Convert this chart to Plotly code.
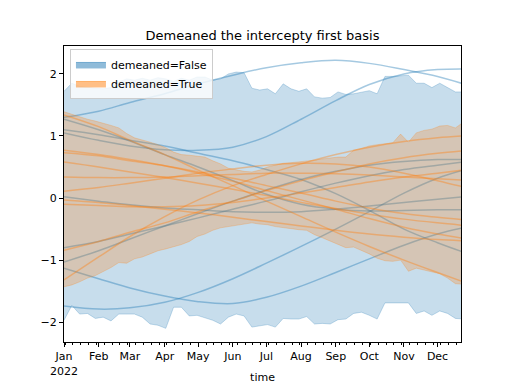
import pandas as pd
import plotly.graph_objects as go

# ---------------- data ----------------
band_dates = pd.date_range("2022-01-01", periods=52, freq="7D")

blue_upper = [1.72, 1.85, 1.80, 1.78, 1.77, 1.76, 1.78, 1.87, 1.92, 1.90, 1.93, 1.90, 1.94,
              1.92, 1.88, 1.93, 1.90, 1.95, 1.95, 1.90, 1.92, 2.00, 2.03, 2.02, 1.77, 1.74,
              1.76, 1.68, 1.84, 1.76, 1.72, 1.76, 1.63, 1.61, 1.62, 1.71, 1.67, 1.68, 1.71,
              1.73, 1.68, 1.96, 1.96, 1.97, 1.98, 1.85, 1.85, 1.78, 1.85, 1.78, 1.71, 1.71]
blue_lower = [-1.97, -1.73, -1.87, -1.86, -1.94, -1.92, -1.98, -1.87, -1.87, -1.87, -1.92,
              -2.03, -2.05, -2.10, -1.76, -1.76, -1.90, -1.89, -1.93, -1.97, -2.03, -1.92,
              -1.87, -1.90, -2.08, -2.06, -2.04, -2.08, -1.94, -1.95, -1.95, -1.91, -2.03,
              -2.02, -2.03, -1.96, -1.95, -1.86, -1.84, -1.89, -1.95, -1.69, -1.69, -1.69,
              -1.69, -1.86, -1.82, -1.89, -1.82, -1.86, -1.94, -1.95]
orange_upper = [1.39, 1.35, 1.30, 1.27, 1.24, 1.21, 1.17, 1.13, 1.04, 0.97, 0.94, 0.90, 0.86,
                0.81, 0.74, 0.70, 0.69, 0.67, 0.66, 0.60, 0.55, 0.48, 0.45, 0.43, 0.42, 0.45,
                0.50, 0.53, 0.56, 0.57, 0.58, 0.60, 0.61, 0.63, 0.65, 0.66, 0.66, 0.77, 0.80,
                0.84, 0.86, 0.88, 0.89, 1.03, 0.90, 1.05, 1.09, 1.11, 1.16, 1.17, 1.13, 1.22]
orange_lower = [-1.43, -1.40, -1.35, -1.29, -1.25, -1.19, -1.12, -1.04, -1.05, -0.98, -0.95,
                -0.90, -0.85, -0.82, -0.79, -0.75, -0.70, -0.62, -0.58, -0.52, -0.48, -0.46,
                -0.44, -0.42, -0.40, -0.42, -0.43, -0.46, -0.48, -0.49, -0.51, -0.52, -0.59,
                -0.64, -0.69, -0.74, -0.80, -0.79, -0.84, -0.90, -0.97, -1.01, -1.02, -1.00,
                -1.18, -1.13, -1.16, -1.19, -1.22, -1.29, -1.38, -1.39]

line_dates = pd.to_datetime(["2022-01-01", "2022-02-01", "2022-03-01", "2022-04-01",
                             "2022-05-01", "2022-06-01", "2022-07-01", "2022-08-01",
                             "2022-09-01", "2022-10-01", "2022-11-01", "2022-12-01",
                             "2022-12-24"])

blue_lines = [
    [1.30, 1.40, 1.54, 1.68, 1.84, 1.98, 2.10, 2.18, 2.22, 2.17, 2.07, 1.96, 1.84],
    [1.05, 0.93, 0.84, 0.78, 0.77, 0.82, 0.99, 1.27, 1.57, 1.83, 2.00, 2.07, 2.08],
    [1.10, 1.02, 0.93, 0.84, 0.72, 0.60, 0.46, 0.30, 0.07, -0.20, -0.50, -0.72, -0.87],
    [1.27, 1.10, 0.92, 0.70, 0.50, 0.28, 0.06, -0.10, -0.18, -0.21, -0.20, -0.19, -0.19],
    [0.02, -0.05, -0.11, -0.16, -0.19, -0.22, -0.23, -0.22, -0.18, -0.13, -0.07, -0.02, 0.02],
    [-0.80, -0.70, -0.58, -0.45, -0.32, -0.18, -0.05, 0.10, 0.24, 0.36, 0.46, 0.53, 0.58],
    [-1.03, -0.85, -0.66, -0.45, -0.25, -0.05, 0.13, 0.30, 0.43, 0.53, 0.59, 0.62, 0.62],
    [-1.13, -1.30, -1.45, -1.58, -1.67, -1.70, -1.60, -1.42, -1.20, -0.98, -0.76, -0.58, -0.48],
    [-1.74, -1.79, -1.77, -1.68, -1.52, -1.30, -1.05, -0.78, -0.50, -0.22, 0.08, 0.32, 0.45],
]

orange_lines = [
    [1.34, 1.15, 0.93, 0.70, 0.45, 0.20, -0.05, -0.30, -0.55, -0.78, -1.00, -1.20, -1.35],
    [-1.32, -0.95, -0.62, -0.30, -0.03, 0.20, 0.38, 0.55, 0.70, 0.82, 0.91, 0.97, 1.00],
    [-0.84, -0.70, -0.55, -0.40, -0.22, -0.05, 0.12, 0.28, 0.42, 0.55, 0.65, 0.72, 0.76],
    [0.77, 0.70, 0.62, 0.52, 0.40, 0.27, 0.12, -0.03, -0.18, -0.33, -0.47, -0.58, -0.65],
    [0.73, 0.68, 0.60, 0.52, 0.42, 0.32, 0.20, 0.08, -0.05, -0.16, -0.25, -0.31, -0.35],
    [0.58, 0.50, 0.42, 0.33, 0.24, 0.14, 0.04, -0.07, -0.17, -0.26, -0.34, -0.40, -0.44],
    [0.34, 0.33, 0.33, 0.34, 0.36, 0.38, 0.40, 0.40, 0.39, 0.37, 0.34, 0.31, 0.29],
    [0.11, 0.17, 0.24, 0.32, 0.40, 0.47, 0.53, 0.56, 0.55, 0.50, 0.40, 0.28, 0.18],
    [-0.03, -0.07, -0.12, -0.18, -0.24, -0.31, -0.38, -0.45, -0.52, -0.58, -0.63, -0.67, -0.69],
    [-0.10, -0.12, -0.14, -0.14, -0.12, -0.07, 0.00, 0.08, 0.17, 0.26, 0.34, 0.40, 0.45],
]

month_ticks = pd.date_range("2022-01-01", periods=12, freq="MS")
month_labels = ["Jan<br>2022", "Feb", "Mar", "Apr", "May", "Jun", "Jul", "Aug", "Sep",
                "Oct", "Nov", "Dec"]
y_ticks = [-2, -1, 0, 1, 2]
y_labels = ["\u22122", "\u22121", "0", "1", "2"]

# ---------------- figure ----------------
BLUE = "31,119,180"
ORANGE = "255,127,14"

fig = go.Figure()


def add_band(upper, lower, rgb):
    fig.add_trace(go.Scatter(x=band_dates, y=lower, mode="lines",
                             line=dict(color=f"rgba({rgb},0.25)", width=1),
                             showlegend=False, hoverinfo="skip"))
    fig.add_trace(go.Scatter(x=band_dates, y=upper, mode="lines", fill="tonexty",
                             fillcolor=f"rgba({rgb},0.25)",
                             line=dict(color=f"rgba({rgb},0.25)", width=1),
                             showlegend=False, hoverinfo="skip"))


def add_lines(lines, rgb):
    for vals in lines:
        fig.add_trace(go.Scatter(x=line_dates, y=vals, mode="lines",
                                 line=dict(color=f"rgba({rgb},0.4)", width=1.5,
                                           shape="spline"),
                                 showlegend=False, hoverinfo="skip"))


add_band(blue_upper, blue_lower, BLUE)
add_lines(blue_lines, BLUE)
add_band(orange_upper, orange_lower, ORANGE)
add_lines(orange_lines, ORANGE)

# legend entries (filled patches)
for rgb, name in [(BLUE, "demeaned=False"), (ORANGE, "demeaned=True")]:
    fig.add_trace(go.Scatter(x=[None], y=[None], mode="lines", fill="toself",
                             fillcolor=f"rgba({rgb},0.5)",
                             line=dict(color=f"rgba({rgb},0.5)", width=1),
                             name=name, showlegend=True))

fig.update_layout(
    width=512, height=384,
    margin=dict(l=64, r=51, t=46, b=42, autoexpand=False),
    paper_bgcolor="white", plot_bgcolor="white",
    font=dict(family="DejaVu Sans", size=11, color="black"),
    title=dict(text="Demeaned the intercepty first basis", x=0.5, xref="paper",
               xanchor="center", yref="container", y=1 - 35 / 384, yanchor="middle",
               font=dict(size=13, color="black")),
    legend=dict(x=0.015, y=0.99, xanchor="left", yanchor="top", traceorder="normal",
                bgcolor="rgba(255,255,255,0.8)", bordercolor="#cccccc", borderwidth=1,
                font=dict(size=11), tracegroupgap=0, itemwidth=30),
    showlegend=True,
)
fig.update_xaxes(
    range=["2022-01-01", "2022-12-22"], automargin=False,
    tickvals=month_ticks, ticktext=month_labels,
    ticks="outside", ticklen=4, tickcolor="black", tickwidth=1,
    showline=True, linecolor="black", linewidth=1, mirror=True,
    showgrid=False, zeroline=False,
    minor=dict(dtick=7 * 24 * 3600 * 1000, tick0="2022-01-02", ticks="outside",
               ticklen=2, tickcolor="black", showgrid=False),
    title=dict(text="time", standoff=6, font=dict(size=11)),
)
fig.update_yaxes(
    range=[-2.32, 2.45], automargin=False,
    tickvals=y_ticks, ticktext=y_labels,
    ticks="outside", ticklen=4, tickcolor="black", tickwidth=1,
    showline=True, linecolor="black", linewidth=1, mirror=True,
    showgrid=False, zeroline=False,
)

fig.write_html("out.html", config={"displayModeBar": False},
               post_script="document.body.style.margin='0';document.body.style.overflow='hidden';")
